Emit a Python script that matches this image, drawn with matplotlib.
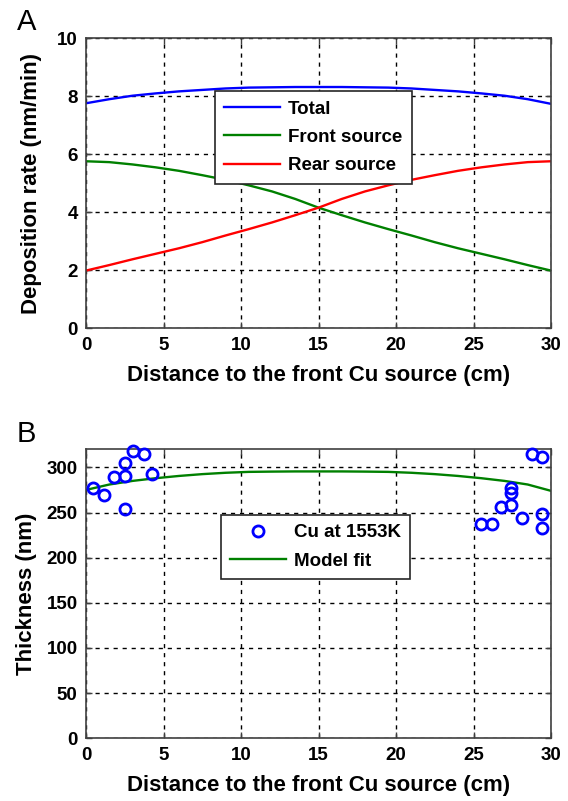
"""
plot.py - Cu deposition rate vs. distance (A) and film thickness with model fit (B).
"""
import matplotlib
matplotlib.use("Agg")
import matplotlib.pyplot as plt
from matplotlib import font_manager

# --- panel A: deposition rate (nm/min) ---
x_rate = [0, 1.5, 3, 4.5, 6, 7.5, 9, 10.5, 12, 13.5, 15,
          16.5, 18, 19.5, 21, 22.5, 24, 25.5, 27, 28.5, 30]
total = [7.76, 7.90, 8.02, 8.10, 8.17, 8.22, 8.27, 8.30, 8.31, 8.32, 8.32,
         8.32, 8.31, 8.30, 8.27, 8.22, 8.17, 8.10, 8.02, 7.90, 7.74]
front = [5.76, 5.73, 5.65, 5.55, 5.43, 5.28, 5.12, 4.93, 4.72, 4.46, 4.16,
         3.90, 3.65, 3.42, 3.20, 2.97, 2.76, 2.57, 2.38, 2.18, 1.99]
rear = [1.99, 2.18, 2.38, 2.57, 2.76, 2.97, 3.20, 3.42, 3.65, 3.90, 4.16,
        4.46, 4.72, 4.93, 5.12, 5.28, 5.43, 5.55, 5.65, 5.73, 5.76]

# --- panel B: measured thickness (nm) and model fit ---
x_meas = [0.47, 1.16, 1.83, 2.52, 2.52, 2.52, 3.0, 3.76, 4.24,
          25.5, 26.2, 26.8, 27.45, 27.45, 27.45, 28.1, 28.75, 29.4, 29.4, 29.4]
thick = [277, 269, 289, 304.7, 290, 253.5, 318.5, 314.6, 293,
         237.7, 237.7, 256.5, 277, 272, 258.5, 244, 315, 312, 248, 233]
fit = [275, 281, 285, 288, 290.5, 292.5, 294, 295, 295.3, 295.5, 295.5,
       295.5, 295.3, 295, 294, 292.5, 290.5, 288, 285, 281, 274]

xticks = [0, 5, 10, 15, 20, 25, 30]
yticks_a = [0, 2, 4, 6, 8, 10]
yticks_b = [0, 50, 100, 150, 200, 250, 300]
xlabel = "Distance to the front Cu source (cm)"

names = {f.name for f in font_manager.fontManager.ttflist}
if "Liberation Sans Narrow" in names:
    tick_font, tick_size = "Liberation Sans Narrow", 15
else:
    tick_font, tick_size = "Liberation Sans", 13.5
plt.rcParams["font.family"] = ["Liberation Sans", "DejaVu Sans"]

W, H = 568, 801
fig = plt.figure(figsize=(W / 100, H / 100), dpi=100)
axA = fig.add_axes([86 / W, 1 - 328.3 / H, 465 / W, 290 / H])
axB = fig.add_axes([86 / W, 1 - 738.3 / H, 465 / W, 289 / H])

axA.plot(x_rate, total, color=(0, 0, 1), lw=1.7, label="Total")
axA.plot(x_rate, front, color=(0, 0.5, 0), lw=1.7, label="Front source")
axA.plot(x_rate, rear, color=(1, 0, 0), lw=1.7, label="Rear source")
axA.set_ylim(0, 10)
axA.set_yticks(yticks_a)
axA.set_ylabel("Deposition rate (nm/min)", fontsize=16, fontweight="bold")

axB.plot(x_meas, thick, ls="none", marker="o", ms=8, mfc="none", mec=(0, 0, 1),
         mew=2, label="Cu at 1553K", clip_on=False, zorder=4)
axB.plot(x_rate, fit, color=(0, 0.5, 0), lw=1.7, label="Model fit")
axB.set_ylim(0, 320)
axB.set_yticks(yticks_b)
axB.set_ylabel("Thickness (nm)", fontsize=16, fontweight="bold")

for ax in (axA, axB):
    ax.set_xlim(0, 30)
    ax.set_xticks(xticks)
    ax.set_xlabel(xlabel, fontsize=16, fontweight="bold", labelpad=8)
    ax.grid(True, color="k", ls=(0, (3, 3.5)), lw=1.0)
    ax.set_axisbelow(True)
    ax.tick_params(direction="in", length=4, width=1, top=True, right=True, pad=6,
                   color="0.25")
    for lab in ax.get_xticklabels() + ax.get_yticklabels():
        lab.set_fontfamily([tick_font, "DejaVu Sans"])
        lab.set_fontsize(tick_size)
        lab.set_fontweight("bold")
    for sp in ax.spines.values():
        sp.set_color("0.25")
        sp.set_linewidth(1.2)

axA.yaxis.set_label_coords(-0.095, 0.5)
axB.yaxis.set_label_coords(-0.105, 0.5)

leg_kw = dict(frameon=True, fancybox=False, framealpha=1, edgecolor="0.15",
              borderaxespad=0, handlelength=3.0, handletextpad=0.4,
              labelspacing=0.6, borderpad=0.5,
              prop={"family": [tick_font, "DejaVu Sans"], "size": tick_size, "weight": "bold"})
lgA = axA.legend(loc="upper left", bbox_to_anchor=(0.277, 0.818), **leg_kw)
lgB = axB.legend(loc="upper left", bbox_to_anchor=(0.29, 0.773), **leg_kw)
for lg in (lgA, lgB):
    lg.get_frame().set_linewidth(1.2)

fig.text(17 / W, 1 - 30 / H, "A", fontsize=21, va="baseline")
fig.text(17 / W, 1 - 442 / H, "B", fontsize=21, va="baseline")

fig.savefig("out.png", dpi=100)
